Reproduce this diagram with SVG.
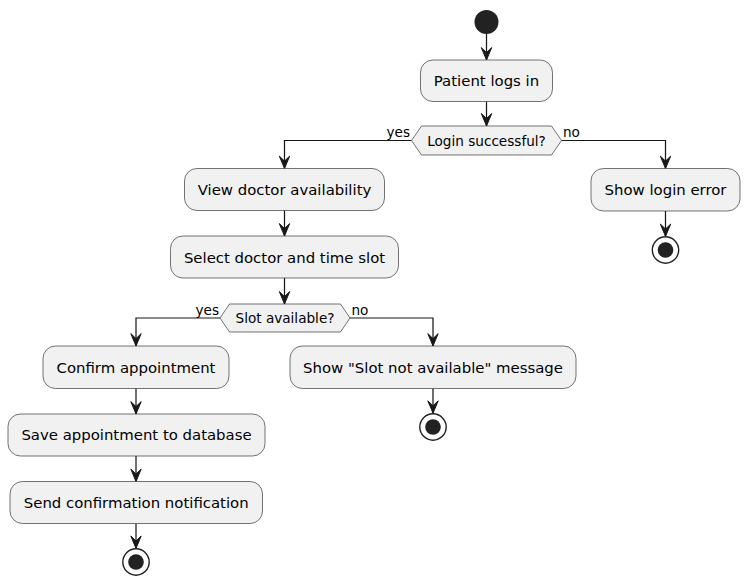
<svg xmlns="http://www.w3.org/2000/svg" width="751" height="587" viewBox="0 0 751 587">
<style>
.box{fill:#F1F1F1;stroke:#181818;stroke-width:0.6}
.dec{fill:#F1F1F1;stroke:#181818;stroke-width:0.6}
.t{font-family:"DejaVu Sans",sans-serif;font-size:14.9px;fill:#000;text-anchor:middle}
.td{font-family:"DejaVu Sans",sans-serif;font-size:13.6px;fill:#000;text-anchor:middle}
.lbl{font-family:"DejaVu Sans",sans-serif;font-size:13.6px;fill:#000}
.c{fill:none;stroke:#181818;stroke-width:1.24;marker-end:url(#ah)}
.start{fill:#222222}
.stopo{fill:#fff;stroke:#222222;stroke-width:1.4}
.stopi{fill:#222222}
</style>
<defs>
<marker id="ah" viewBox="-14 -7 16 14" refX="0" refY="0" markerWidth="16" markerHeight="14" markerUnits="userSpaceOnUse" orient="auto">
<path d="M0,0 L-12.4,-5.2 L-7.4,0 L-12.4,5.2 Z" fill="#181818" stroke="#181818" stroke-width="1"/>
</marker>
</defs>
<rect width="751" height="587" fill="#fff"/>
<g id="connectors">
<path class="c" d="M486.5 34 V60"/>
<path class="c" d="M486.5 101.5 V126"/>
<path class="c" d="M411.5 140.5 H284.5 V168.5"/>
<path class="c" d="M561.5 140.5 H665.5 V168.5"/>
<path class="c" d="M665.5 211 V236.4"/>
<path class="c" d="M284.5 210.5 V236"/>
<path class="c" d="M284.5 278 V304"/>
<path class="c" d="M220 318 H136 V346"/>
<path class="c" d="M350 318 H433 V346"/>
<path class="c" d="M433 388.5 V413.2"/>
<path class="c" d="M136 388.5 V414"/>
<path class="c" d="M136 456 V481.5"/>
<path class="c" d="M136 523.5 V548.4"/>
<text class="lbl" x="410" y="137" text-anchor="end">yes</text>
<text class="lbl" x="563" y="137">no</text>
<text class="lbl" x="219" y="315" text-anchor="end">yes</text>
<text class="lbl" x="351.5" y="315">no</text>
</g>
<g id="start"><circle class="start" cx="486.5" cy="22" r="12"/></g>
<g id="patient-logs-in">
<rect class="box" x="420.5" y="60" width="132" height="41.5" rx="12.4"/>
<text class="t" x="486.5" y="86">Patient logs in</text>
</g>
<g id="login-successful">
<polygon class="dec" points="411.5,140.5 421.5,126 551.5,126 561.5,140.5 551.5,155 421.5,155"/>
<text class="td" x="486.5" y="145.5">Login successful?</text>
</g>
<g id="show-login-error">
<rect class="box" x="591" y="168.5" width="149" height="42.5" rx="12.4"/>
<text class="t" x="665.5" y="195">Show login error</text>
</g>
<g id="stop-login"><circle class="stopo" cx="665.5" cy="250" r="13.2"/><circle class="stopi" cx="665.5" cy="250" r="7.8"/></g>
<g id="view-availability">
<rect class="box" x="184.5" y="168.5" width="200" height="42" rx="12.4"/>
<text class="t" x="284.5" y="195">View doctor availability</text>
</g>
<g id="select-slot">
<rect class="box" x="170.5" y="236" width="228" height="42" rx="12.4"/>
<text class="t" x="284.5" y="262.5">Select doctor and time slot</text>
</g>
<g id="slot-available">
<polygon class="dec" points="220,318 229.5,304 340.5,304 350,318 340.5,332 229.5,332"/>
<text class="td" x="285" y="323">Slot available?</text>
</g>
<g id="confirm-appointment">
<rect class="box" x="43" y="346" width="186" height="42.5" rx="12.4"/>
<text class="t" x="136" y="372.5">Confirm appointment</text>
</g>
<g id="save-appointment">
<rect class="box" x="8" y="414" width="257" height="42" rx="12.4"/>
<text class="t" x="136.5" y="440">Save appointment to database</text>
</g>
<g id="send-notification">
<rect class="box" x="10" y="481.5" width="252.5" height="42" rx="12.4"/>
<text class="t" x="136.2" y="507.5">Send confirmation notification</text>
</g>
<g id="stop-success"><circle class="stopo" cx="136" cy="562" r="13.2"/><circle class="stopi" cx="136" cy="562" r="7.8"/></g>
<g id="slot-not-available">
<rect class="box" x="290" y="346" width="286" height="42.5" rx="12.4"/>
<text class="t" x="433" y="372.5">Show "Slot not available" message</text>
</g>
<g id="stop-unavailable"><circle class="stopo" cx="433" cy="427" r="13.2"/><circle class="stopi" cx="433" cy="427" r="7.8"/></g>
</svg>
